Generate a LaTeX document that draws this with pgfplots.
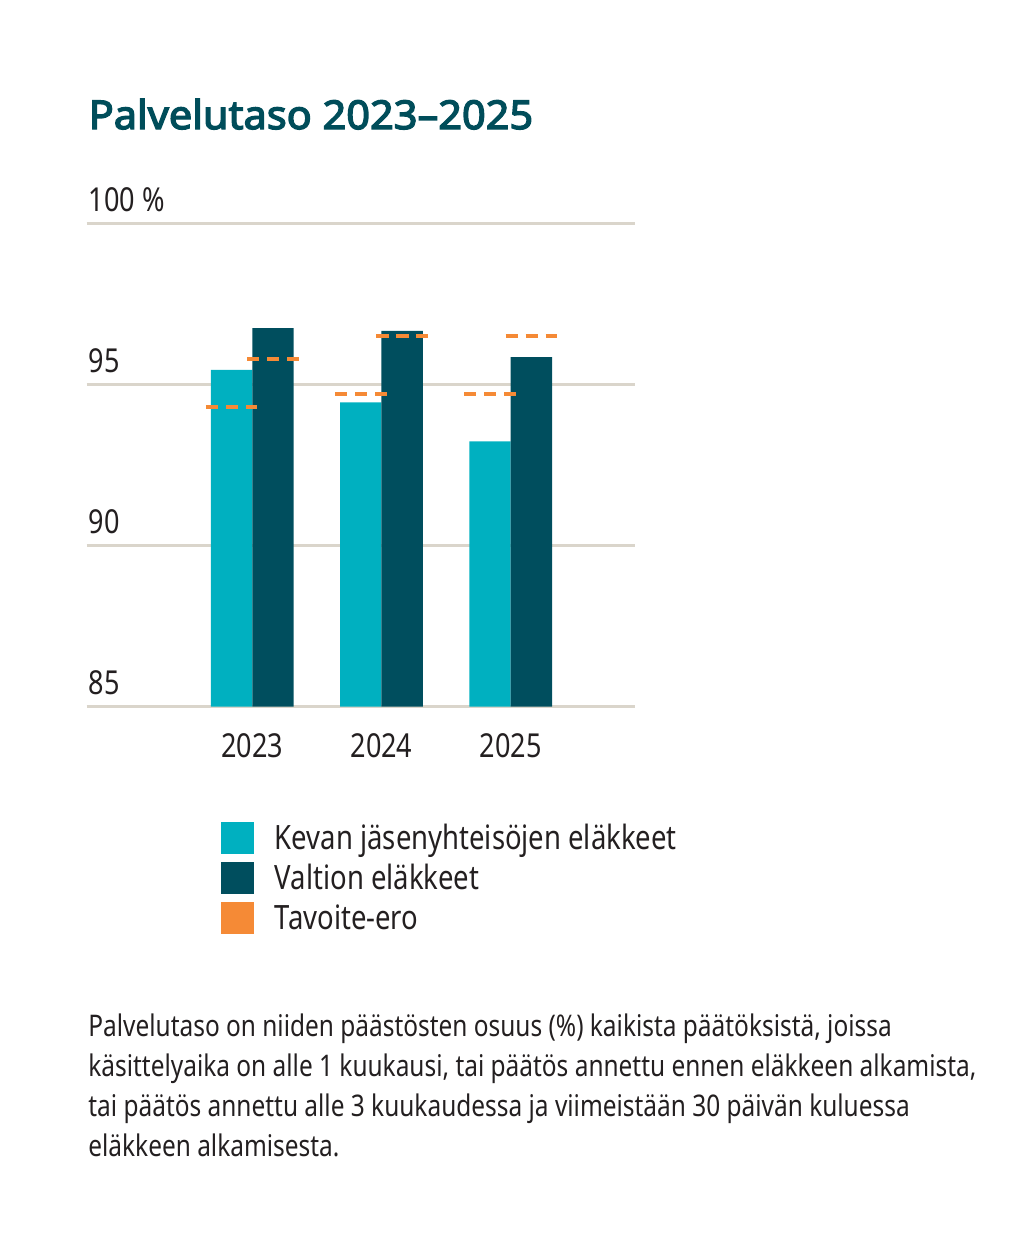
\documentclass[border=0pt]{standalone}
\usepackage{fontspec}
\setmainfont{Noto Sans}[FakeStretch=0.82]
\newfontfamily\titlefont{Noto Sans}[FakeBold=3.4, FakeStretch=1.045]
\usepackage{pgfplots}
\pgfplotsset{compat=1.18}
\definecolor{kevan}{HTML}{00B0C0}
\definecolor{valtion}{HTML}{004E5E}
\definecolor{tavoite}{HTML}{F58A36}
\definecolor{gridc}{HTML}{DAD5CB}
\definecolor{titlec}{HTML}{004D5A}
\definecolor{textc}{HTML}{231F20}
\newcommand\lblfont{\fontsize{16.5}{20}\selectfont}
\newcommand\legfont{\fontsize{16.75}{20}\selectfont}
\newcommand\notefont{\fontsize{14.9}{20}\selectfont}
\pgfplotstableread{
x y
0 95.45
1 94.44
2 93.23
}\kevantable
\pgfplotstableread{
x y
0 96.75
1 96.66
2 95.85
}\valtiontable
\pgfplotstableread{
x y
-0.36 94.3
0.04 94.3
0.04 nan
-0.04 95.8
0.36 95.8
0.36 nan
0.64 94.7
1.04 94.7
1.04 nan
0.96 96.5
1.36 96.5
1.36 nan
1.64 94.7
2.04 94.7
2.04 nan
1.96 96.5
2.36 96.5
}\tavoitetable
\begin{document}
\begin{tikzpicture}
\useasboundingbox (0,0) rectangle (512pt,-625pt);
\node[anchor=base west, inner sep=0pt, text=titlec, font=\titlefont\fontsize{19.85}{24}\selectfont] at (44.15pt,-64.5pt) {Palvelutaso 2023–2025};
\begin{axis}[
  at={(43.35pt,-353.25pt)}, anchor=south west,
  scale only axis, width=274pt, height=241.6pt,
  xmin=-1.2817, xmax=2.9598, ymin=85, ymax=100,
  xtick={0,1,2}, xticklabels={2023,2024,2025},
  ytick={85,90,95,100}, yticklabels={85,90,95,{100 \%}},
  axis line style={draw=none}, tick style={draw=none},
  ymajorgrids, grid style={gridc, line width=1.3pt},
  yticklabel style={anchor=base west, inner sep=0pt, xshift=0.8pt, yshift=6pt, font=\lblfont, text=textc},
  xticklabel style={anchor=base, inner sep=0pt, yshift=-25.25pt, font=\lblfont, text=textc},
  legend style={at={(0.2456,-0.2384)}, anchor=north west, draw=none, fill=none,
    inner sep=0pt, outer sep=0pt, row sep=3.85pt, column sep=10.65pt,
    font=\legfont, text=textc,
    nodes={anchor=base west, inner sep=0pt, outer sep=0pt, text height=13.8pt, text depth=2.35pt}},
]
\addplot[ybar, bar width=0.32, bar shift=-0.16, fill=kevan, draw=none,
  legend image code/.code={\fill[kevan, draw=none, solid] (0pt,-2.35pt) rectangle (16.2pt,13.8pt);}]
  table[x=x,y=y] {\kevantable};
\addlegendentry{Kevan jäsenyhteisöjen eläkkeet}
\addplot[ybar, bar width=0.32, bar shift=0.16, fill=valtion, draw=none,
  legend image code/.code={\fill[valtion, draw=none, solid] (0pt,-2.35pt) rectangle (16.2pt,13.8pt);}]
  table[x=x,y=y] {\valtiontable};
\addlegendentry{Valtion eläkkeet}
\addplot[tavoite, line width=1.9pt, dash pattern=on 6.15pt off 3.85pt, unbounded coords=jump, mark=none,
  legend image code/.code={\fill[tavoite, draw=none, solid] (0pt,-2.35pt) rectangle (16.2pt,13.8pt);}]
  table[x=x,y=y] {\tavoitetable};
\addlegendentry{Tavoite-ero}
\end{axis}
\begin{scope}[every node/.style={anchor=base west, inner sep=0pt, text=textc, font=\notefont}]
\node at (44pt,-518.35pt) {Palvelutaso on niiden päästösten osuus (\%) kaikista päätöksistä, joissa};
\node at (44pt,-538.35pt) {käsittelyaika on alle 1 kuukausi, tai päätös annettu ennen eläkkeen alkamista,};
\node at (44pt,-558.35pt) {tai päätös annettu alle 3 kuukaudessa ja viimeistään 30 päivän kuluessa};
\node at (44pt,-578.35pt) {eläkkeen alkamisesta.};
\end{scope}
\end{tikzpicture}
\end{document}
